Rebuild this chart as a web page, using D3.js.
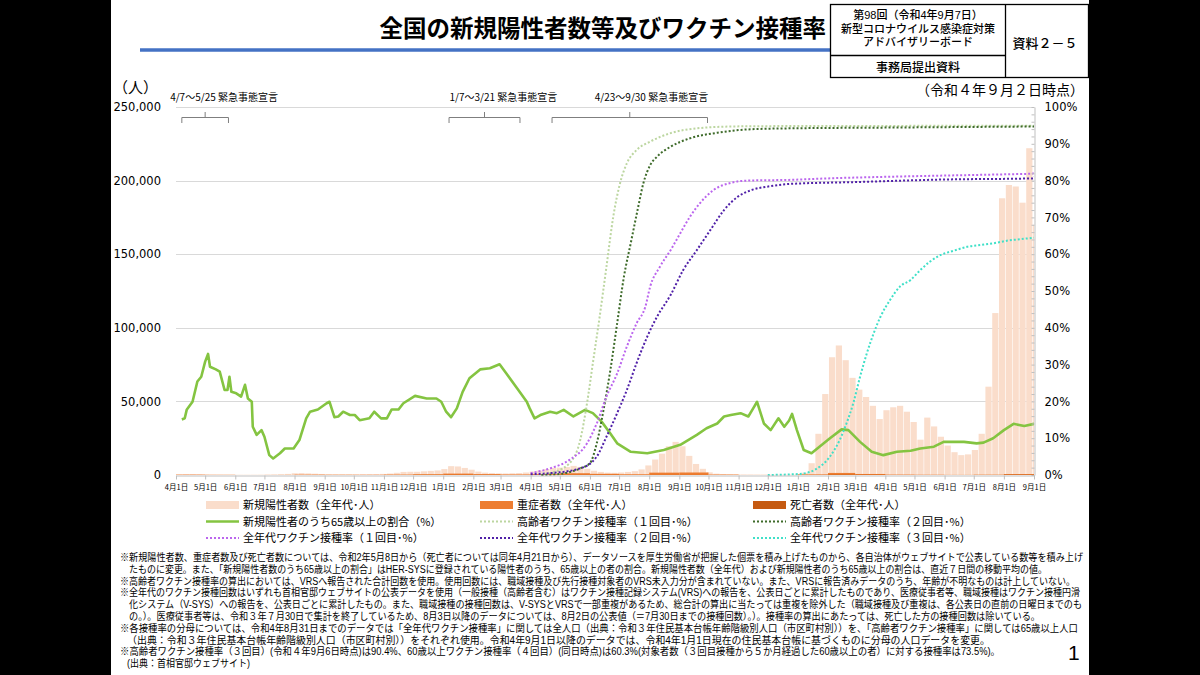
<!DOCTYPE html>
<html>
<head>
<meta charset="utf-8">
<script src="https://cdn.jsdelivr.net/npm/d3@7"></script>
<style>
html, body { margin: 0; padding: 0; background: #000; }
svg { display: block; }
text { font-family: "Noto Sans CJK JP", "Noto Sans", sans-serif; fill: #000; }
.num { font-family: "DejaVu Sans", sans-serif; }
.note { font-family: "Liberation Sans", "Noto Sans CJK JP", sans-serif; }
</style>
</head>
<body>
<svg id="chart" width="1200" height="675"></svg>
<script>
'use strict';

// ---- data ----
var xStart = '2020-04-01', xEnd = '2022-09-01';
var leftTicks = [0, 50000, 100000, 150000, 200000, 250000];
var rightTicks = [0, 10, 20, 30, 40, 50, 60, 70, 80, 90, 100];

// new positives, one value per 7 days from casesStart
var casesStart = '2020-04-01';
var newCases = [
    300, 450, 500, 350, 200, 100, 50, 30, 40, 40,
    50, 60, 90, 180, 300, 500, 750, 1200, 1300, 1100,
    900, 700, 550, 500, 500, 450, 500, 550, 600, 650,
    750, 1000, 1500, 2100, 2200, 2200, 2500, 2800, 3100, 4000,
    6000, 5800, 4800, 3600, 2300, 1600, 1300, 1100, 1050, 1200,
    1350, 1700, 2300, 3000, 4000, 4900, 5000, 5400, 6200, 5500,
    4200, 2900, 2100, 1600, 1500, 1700, 2100, 2600, 3800, 6500,
    10500, 14500, 19500, 22500, 19500, 13000, 7500, 4200, 1800, 900,
    600, 350, 250, 200, 180, 150, 120, 120, 130, 160,
    230, 450, 1500, 8000, 28000, 55000, 80000, 88000, 78000, 66000,
    58000, 53000, 47000, 38000, 44000, 46000, 47000, 43000, 36000, 24000,
    39000, 33000, 26000, 20000, 15500, 13500, 14000, 17000, 28000, 60000,
    110000, 188000, 197000, 196000, 185000, 222000, 170000
];

// severe cases and deaths, monthly averages from monthlyStart
var monthlyStart = '2020-04-01';
var severeMonthly = [250, 150, 40, 60, 230, 170, 140, 300, 550,
    950, 600, 350, 600, 1200, 800, 500, 1600, 1700, 300, 60, 30,
    400, 1400, 700, 250, 150, 60, 200, 600];
var deathsMonthly = [10, 10, 2, 1, 10, 8, 5, 10, 35,
    70, 60, 30, 25, 85, 45, 10, 30, 45, 10, 2, 1,
    30, 200, 120, 40, 35, 15, 40, 250];

var over65Share = [
    ['2020-04-07', 15.1], ['2020-04-10', 15.4], ['2020-04-12', 17.7], ['2020-04-18', 19.9], ['2020-04-23', 25.4],
    ['2020-04-27', 26.7], ['2020-05-01', 30.8], ['2020-05-04', 32.9], ['2020-05-06', 29.4], ['2020-05-12', 28.7],
    ['2020-05-16', 28.1], ['2020-05-21', 23.1], ['2020-05-24', 23.1], ['2020-05-26', 26.7], ['2020-05-28', 22.6],
    ['2020-06-02', 22.2], ['2020-06-07', 21.3], ['2020-06-11', 24.5], ['2020-06-14', 20.8], ['2020-06-18', 19.9],
    ['2020-06-19', 13.1], ['2020-06-23', 10.9], ['2020-06-28', 12.2], ['2020-07-01', 10.4], ['2020-07-06', 5.4],
    ['2020-07-10', 4.5], ['2020-07-17', 5.9], ['2020-07-22', 7.2], ['2020-07-31', 7.2], ['2020-08-06', 9.5],
    ['2020-08-13', 15.4], ['2020-08-17', 17.2], ['2020-08-25', 17.8], ['2020-09-03', 19.5], ['2020-09-06', 19.9],
    ['2020-09-11', 15.7], ['2020-09-15', 15.9], ['2020-09-20', 17.2], ['2020-09-27', 16.3], ['2020-10-02', 16.3],
    ['2020-10-07', 14.9], ['2020-10-17', 15.4], ['2020-10-22', 17.2], ['2020-10-29', 15.4], ['2020-11-04', 15.4],
    ['2020-11-09', 17.8], ['2020-11-16', 17.8], ['2020-11-21', 19.5], ['2020-12-03', 21.5], ['2020-12-15', 20.8],
    ['2020-12-25', 20.8], ['2020-12-30', 19.9], ['2021-01-04', 17.2], ['2021-01-09', 15.7], ['2021-01-15', 18.1],
    ['2021-01-21', 22.6], ['2021-01-28', 26.3], ['2021-02-08', 28.7], ['2021-02-18', 29.0], ['2021-02-28', 30.1],
    ['2021-03-07', 27.6], ['2021-03-18', 23.6], ['2021-03-28', 19.9], ['2021-03-31', 18.1], ['2021-04-05', 15.4],
    ['2021-04-11', 16.3], ['2021-04-21', 17.2], ['2021-04-28', 16.8], ['2021-05-05', 17.7], ['2021-05-15', 15.9],
    ['2021-05-27', 17.7], ['2021-06-04', 16.8], ['2021-06-13', 14.5], ['2021-06-22', 11.3], ['2021-06-29', 8.6],
    ['2021-07-13', 6.3], ['2021-07-30', 5.9], ['2021-08-16', 6.8], ['2021-09-02', 8.2], ['2021-09-19', 10.9],
    ['2021-09-29', 12.7], ['2021-10-10', 14.0], ['2021-10-17', 15.9], ['2021-10-24', 16.3], ['2021-11-03', 16.8],
    ['2021-11-11', 15.9], ['2021-11-16', 18.1], ['2021-11-20', 19.9], ['2021-11-27', 14.0], ['2021-12-04', 12.2],
    ['2021-12-12', 15.4], ['2021-12-18', 13.1], ['2021-12-23', 14.8], ['2021-12-26', 16.6], ['2021-12-31', 12.2],
    ['2022-01-07', 6.8], ['2022-01-15', 5.9], ['2022-01-21', 7.2], ['2022-02-03', 10.0], ['2022-02-15', 12.4],
    ['2022-02-22', 12.2], ['2022-03-06', 9.0], ['2022-03-18', 6.3], ['2022-03-30', 5.4], ['2022-04-13', 6.3],
    ['2022-04-27', 6.6], ['2022-05-07', 7.2], ['2022-05-21', 7.7], ['2022-05-31', 9.0], ['2022-06-21', 9.0],
    ['2022-07-04', 8.6], ['2022-07-11', 8.8], ['2022-07-21', 10.0], ['2022-08-01', 12.2], ['2022-08-11', 13.9],
    ['2022-08-22', 13.3], ['2022-09-01', 13.9]
];

var elderly1st = [
    ['2021-04-12', 0], ['2021-04-21', 0.5], ['2021-05-11', 3.2], ['2021-05-22', 9.5], ['2021-05-29', 19.5],
    ['2021-06-04', 30.4], ['2021-06-11', 43.0], ['2021-06-18', 56.6], ['2021-06-25', 70.2], ['2021-07-02', 79.3],
    ['2021-07-09', 84.7], ['2021-07-19', 88.3], ['2021-08-02', 90.6], ['2021-08-23', 92.9], ['2021-09-19', 94.2],
    ['2021-10-24', 94.7], ['2021-12-01', 94.8], ['2022-09-01', 94.9]
];
var elderly2nd = [
    ['2021-04-12', 0], ['2021-05-01', 0.3], ['2021-05-22', 1.8], ['2021-06-01', 3.2], ['2021-06-08', 8.6],
    ['2021-06-15', 17.7], ['2021-06-22', 28.5], ['2021-06-29', 41.2], ['2021-07-06', 53.9], ['2021-07-13', 63.0],
    ['2021-07-20', 72.0], ['2021-07-26', 79.3], ['2021-08-02', 84.2], ['2021-08-09', 86.5], ['2021-08-23', 89.2],
    ['2021-09-12', 91.5], ['2021-10-10', 93.0], ['2021-11-10', 93.9], ['2021-12-24', 94.2], ['2022-04-01', 94.4],
    ['2022-09-01', 94.7]
];
var all1st = [
    ['2021-04-01', 0.5], ['2021-04-21', 1.8], ['2021-05-11', 4.1], ['2021-05-29', 8.6], ['2021-06-08', 14.0],
    ['2021-06-18', 21.3], ['2021-06-29', 27.6], ['2021-07-09', 34.9], ['2021-07-19', 41.2], ['2021-07-28', 45.7],
    ['2021-08-02', 51.2], ['2021-08-12', 56.6], ['2021-08-23', 61.1], ['2021-09-02', 65.7], ['2021-09-12', 70.2],
    ['2021-09-22', 73.8], ['2021-10-06', 77.4], ['2021-10-24', 79.4], ['2021-11-10', 80.0], ['2021-12-24', 80.2],
    ['2022-02-01', 80.6], ['2022-05-01', 81.2], ['2022-08-01', 81.7], ['2022-08-31', 81.9], ['2022-09-01', 82.4]
];
var all2nd = [
    ['2021-04-01', 0.2], ['2021-04-21', 0.5], ['2021-05-22', 1.8], ['2021-06-08', 5.0], ['2021-06-18', 10.4],
    ['2021-06-29', 16.8], ['2021-07-09', 23.1], ['2021-07-19', 30.4], ['2021-07-30', 37.6], ['2021-08-09', 43.0],
    ['2021-08-23', 48.9], ['2021-09-05', 55.7], ['2021-09-19', 61.1], ['2021-10-03', 66.6], ['2021-10-17', 72.0],
    ['2021-10-31', 75.6], ['2021-11-14', 77.4], ['2021-12-04', 78.5], ['2021-12-24', 79.1], ['2022-03-01', 79.6],
    ['2022-06-01', 80.3], ['2022-08-31', 80.6], ['2022-09-01', 81.1]
];
var all3rd = [
    ['2021-12-01', 0], ['2022-01-03', 0.3], ['2022-01-21', 1.8], ['2022-02-03', 5.0], ['2022-02-13', 9.5],
    ['2022-02-20', 14.0], ['2022-02-27', 19.5], ['2022-03-06', 26.7], ['2022-03-13', 33.1], ['2022-03-20', 38.5],
    ['2022-03-27', 43.0], ['2022-04-06', 47.6], ['2022-04-16', 51.2], ['2022-04-27', 53.0], ['2022-05-07', 55.7],
    ['2022-05-17', 58.0], ['2022-05-28', 59.8], ['2022-06-10', 60.9], ['2022-06-24', 62.0], ['2022-07-08', 62.5],
    ['2022-07-22', 63.0], ['2022-08-05', 63.7], ['2022-08-19', 64.1], ['2022-09-01', 64.5]
];

var emergencies = [
    ['2020-04-07', '2020-05-25', '4/7～5/25 緊急事態宣言'],
    ['2021-01-07', '2021-03-21', '1/7～3/21 緊急事態宣言'],
    ['2021-04-23', '2021-09-30', '4/23～9/30 緊急事態宣言']
];

var footnotes = [
    '※新規陽性者数、重症者数及び死亡者数については、令和2年5月8日から（死亡者については同年4月21日から）、データソースを厚生労働省が把握した個票を積み上げたものから、各自治体がウェブサイトで公表している数等を積み上げ',
    'たものに変更。また、「新規陽性者数のうち65歳以上の割合」はHER-SYSに登録されている陽性者のうち、65歳以上の者の割合。新規陽性者数（全年代）および新規陽性者のうち65歳以上の割合は、直近７日間の移動平均の値。',
    '※高齢者ワクチン接種率の算出においては、VRSへ報告された合計回数を使用。使用回数には、職域接種及び先行接種対象者のVRS未入力分が含まれていない。また、VRSに報告済みデータのうち、年齢が不明なものは計上していない。',
    '※全年代のワクチン接種回数はいずれも首相官邸ウェブサイトの公表データを使用（一般接種（高齢者含む）はワクチン接種記録システム(VRS)への報告を、公表日ごとに累計したものであり、医療従事者等、職域接種はワクチン接種円滑',
    '化システム（V-SYS）への報告を、公表日ごとに累計したもの。また、職域接種の接種回数は、V-SYSとVRSで一部重複があるため、総合計の算出に当たっては重複を除外した（職域接種及び重複は、各公表日の直前の日曜日までのも',
    'の。）。医療従事者等は、令和３年７月30日で集計を終了しているため、8月3日以降のデータについては、8月2日の公表値（＝7月30日までの接種回数）。）。接種率の算出にあたっては、死亡した方の接種回数は除いている。',
    '※各接種率の分母については、令和4年8月31日までのデータでは「全年代ワクチン接種率」に関しては全人口（出典：令和３年住民基本台帳年齢階級別人口（市区町村別））を、「高齢者ワクチン接種率」に関しては65歳以上人口',
    '（出典：令和３年住民基本台帳年齢階級別人口（市区町村別））をそれぞれ使用。令和4年9月1日以降のデータでは、令和4年1月1日現在の住民基本台帳に基づくものに分母の人口データを変更。',
    '※高齢者ワクチン接種率（３回目）(令和４年9月6日時点)は90.4%、60歳以上ワクチン接種率（４回目）(同日時点)は60.3%(対象者数（３回目接種から５か月経過した60歳以上の者）に対する接種率は73.5%)。',
    '(出典：首相官邸ウェブサイト)'
];
// x start / x end of each footnote line
var footnoteSpan = [[120, 1083], [129, 1047], [120, 1075], [120, 1080], [129, 1082],
    [129, 1040], [120, 1078], [127, 990], [120, 1000], [127, 250]];

// ---- styles ----
var C = {
    cases: '#FADDCB', severe: '#ED7D31', deaths: '#C55A11', share: '#84C441',
    e1: '#BCD6A0', e2: '#3E6B2A', a1: '#BB66EE', a2: '#5020A8', a3: '#40E0C8'
};

var parse = d3.timeParse('%Y-%m-%d');
var svg = d3.select('#chart');

// slide
svg.append('rect').attr('x', 111).attr('y', 0).attr('width', 978).attr('height', 675).attr('fill', '#fff');

// header
svg.append('text').attr('x', 826).attr('y', 37).attr('text-anchor', 'end')
    .style('font-size', '23.5px').style('font-weight', 'bold').text('全国の新規陽性者数等及びワクチン接種率');
svg.append('line').attr('x1', 140).attr('x2', 830).attr('y1', 50).attr('y2', 50)
    .attr('stroke', '#4472C4').attr('stroke-width', 3.5);

var box = svg.append('g').attr('stroke', '#000').attr('stroke-width', 1.3).attr('fill', 'none');
box.append('rect').attr('x', 830.5).attr('y', 4.5).attr('width', 258).attr('height', 73);
box.append('line').attr('x1', 1005.5).attr('x2', 1005.5).attr('y1', 4.5).attr('y2', 77.5);
box.append('line').attr('x1', 830.5).attr('x2', 1005.5).attr('y1', 55.5).attr('y2', 55.5);

[['第98回（令和4年9月7日）', 19], ['新型コロナウイルス感染症対策', 33], ['アドバイザリーボード', 46]].forEach(function (d) {
    svg.append('text').attr('class', 'note').attr('x', 918).attr('y', d[1]).attr('text-anchor', 'middle')
        .style('font-size', '11px').style('font-weight', 500).text(d[0]);
});
svg.append('text').attr('x', 918).attr('y', 71.5).attr('text-anchor', 'middle')
    .style('font-size', '12px').style('font-weight', 500).text('事務局提出資料');
svg.append('text').attr('x', 1045).attr('y', 47.5).attr('text-anchor', 'middle')
    .style('font-size', '13px').style('font-weight', 500).text('資料２－５');
svg.append('text').attr('x', 1084).attr('y', 95).attr('text-anchor', 'end')
    .style('font-size', '14px').text('（令和４年９月２日時点）');
svg.append('text').attr('x', 113).attr('y', 93).style('font-size', '15px').text('（人）');

// ---- scales ----
var x = d3.scaleTime().domain([parse(xStart), parse(xEnd)]).range([176, 1034]);
var yL = d3.scaleLinear().domain([0, 250000]).range([475, 107]);
var yR = d3.scaleLinear().domain([0, 100]).range([475, 107]);

svg.append('clipPath').attr('id', 'plot').append('rect')
    .attr('x', 176).attr('y', 100).attr('width', 858).attr('height', 376);

// gridlines
svg.append('g').selectAll('line').data(leftTicks.slice(1)).join('line')
    .attr('x1', 176).attr('x2', 1034).attr('y1', function (d) { return Math.round(yL(d)) + 0.5; })
    .attr('y2', function (d) { return Math.round(yL(d)) + 0.5; })
    .attr('stroke', '#D9D9D9').attr('stroke-width', 1);

var plot = svg.append('g').attr('clip-path', 'url(#plot)');

// new positives
var c0 = parse(casesStart);
plot.append('g').selectAll('rect').data(newCases).join('rect')
    .attr('x', function (d, i) { return x(d3.timeDay.offset(c0, 7 * i)); })
    .attr('width', function (d, i) { return x(d3.timeDay.offset(c0, 7 * i + 7)) - x(d3.timeDay.offset(c0, 7 * i)) - 0.6; })
    .attr('y', function (d) { return yL(d); })
    .attr('height', function (d) { return yL(0) - yL(d); })
    .attr('fill', C.cases);

// severe and deaths
var m0 = parse(monthlyStart);
[[severeMonthly, C.severe], [deathsMonthly, C.deaths]].forEach(function (s) {
    plot.append('g').selectAll('rect').data(s[0]).join('rect')
        .attr('x', function (d, i) { return x(d3.timeMonth.offset(m0, i)); })
        .attr('width', function (d, i) { return x(d3.timeMonth.offset(m0, i + 1)) - x(d3.timeMonth.offset(m0, i)); })
        .attr('y', function (d) { return yL(d); })
        .attr('height', function (d) { return yL(0) - yL(d); })
        .attr('fill', s[1]);
});

// lines
function pctLine(curve) {
    return d3.line().curve(curve)
        .x(function (d) { return x(parse(d[0])); })
        .y(function (d) { return yR(d[1]); });
}
plot.append('path').datum(over65Share).attr('d', pctLine(d3.curveLinear))
    .attr('fill', 'none').attr('stroke', C.share).attr('stroke-width', 2.6).attr('stroke-linejoin', 'round');

[[elderly1st, C.e1], [elderly2nd, C.e2], [all1st, C.a1], [all2nd, C.a2], [all3rd, C.a3]].forEach(function (s) {
    plot.append('path').datum(s[0]).attr('d', pctLine(d3.curveMonotoneX))
        .attr('fill', 'none').attr('stroke', s[1]).attr('stroke-width', 2)
        .attr('stroke-dasharray', '2,2');
});

// ---- axes ----
var xAxis = svg.append('g').attr('transform', 'translate(0,475.5)')
    .call(d3.axisBottom(x).tickValues(d3.timeMonth.range(parse(xStart), d3.timeDay.offset(parse(xEnd), 1)))
        .tickFormat(d3.timeFormat('%-m月%-d日')).tickSize(4).tickSizeOuter(0));
xAxis.select('.domain').attr('stroke', '#BFBFBF');
xAxis.selectAll('.tick line').attr('stroke', '#BFBFBF');
xAxis.selectAll('.tick text').attr('dy', '0.95em')
    .style('font-size', '7.5px').style('font-family', '"Noto Sans CJK JP", sans-serif').attr('fill', '#333');

var lAxis = svg.append('g').attr('transform', 'translate(164,0)')
    .call(d3.axisLeft(yL).tickValues(leftTicks).tickFormat(d3.format(',')).tickSize(0));
lAxis.select('.domain').remove();
lAxis.selectAll('text').attr('class', 'num').style('font-size', '11.5px').attr('fill', '#222');

var rAxisMinor = svg.append('g').attr('transform', 'translate(1034.5,0)')
    .call(d3.axisLeft(yR).tickValues(d3.range(0, 101, 2)).tickFormat('').tickSize(3).tickSizeOuter(0));
rAxisMinor.select('.domain').attr('stroke', '#BFBFBF');
rAxisMinor.selectAll('.tick line').attr('stroke', '#BFBFBF');

var rAxis = svg.append('g').attr('transform', 'translate(1034.5,0)')
    .call(d3.axisRight(yR).tickValues(rightTicks).tickFormat(function (d) { return d + '%'; }).tickSize(0).tickPadding(10));
rAxis.select('.domain').remove();
rAxis.selectAll('text').attr('class', 'num').style('font-size', '11.5px').attr('fill', '#222');

// ---- emergency declarations ----
var em = svg.append('g');
emergencies.forEach(function (e) {
    var x1 = x(parse(e[0])), x2 = x(parse(e[1])), cx = (x1 + x2) / 2;
    em.append('path').attr('d', 'M' + x1 + ',123V117.5H' + x2 + 'V123M' + cx + ',117.5V112')
        .attr('fill', 'none').attr('stroke', '#7F7F7F').attr('stroke-width', 1);
    em.append('text').attr('x', cx - 35).attr('y', 101).style('font-size', '10px').text(e[2]);
});

// ---- legend ----
var legendItems = [
    { label: '新規陽性者数（全年代･人）', kind: 'rect', color: C.cases },
    { label: '重症者数（全年代･人）', kind: 'rect', color: C.severe },
    { label: '死亡者数（全年代･人）', kind: 'rect', color: C.deaths },
    { label: '新規陽性者のうち65歳以上の割合（%）', kind: 'line', color: C.share },
    { label: '高齢者ワクチン接種率（１回目･%）', kind: 'dot', color: C.e1 },
    { label: '高齢者ワクチン接種率（２回目･%）', kind: 'dot', color: C.e2 },
    { label: '全年代ワクチン接種率（１回目･%）', kind: 'dot', color: C.a1 },
    { label: '全年代ワクチン接種率（２回目･%）', kind: 'dot', color: C.a2 },
    { label: '全年代ワクチン接種率（３回目･%）', kind: 'dot', color: C.a3 }
];
var legX = [206, 480, 753], legY = [505, 521.5, 538];
var leg = svg.append('g');
legendItems.forEach(function (d, i) {
    var lx = legX[i % 3], ly = legY[Math.floor(i / 3)];
    if (d.kind === 'rect') {
        leg.append('rect').attr('x', lx).attr('y', ly - 4).attr('width', 33).attr('height', 8).attr('fill', d.color);
    } else {
        leg.append('line').attr('x1', lx).attr('x2', lx + 33).attr('y1', ly).attr('y2', ly)
            .attr('stroke', d.color).attr('stroke-width', d.kind === 'line' ? 2.6 : 2)
            .attr('stroke-dasharray', d.kind === 'dot' ? '2,2' : null);
    }
    leg.append('text').attr('x', lx + 37).attr('y', ly + 4).style('font-size', '11px').text(d.label);
});

// ---- footnotes ----
var fn = svg.append('g');
footnotes.forEach(function (t, i) {
    var s = footnoteSpan[i];
    fn.append('text').attr('class', 'note').attr('x', s[0]).attr('y', 561 + i * 11.8)
        .attr('textLength', s[1] - s[0]).attr('lengthAdjust', 'spacingAndGlyphs')
        .style('font-size', '10px').text(t);
});

svg.append('text').attr('x', 1068).attr('y', 660).style('font-size', '21px')
    .style('font-family', '"Liberation Sans", sans-serif').text('1');
</script>
</body>
</html>
